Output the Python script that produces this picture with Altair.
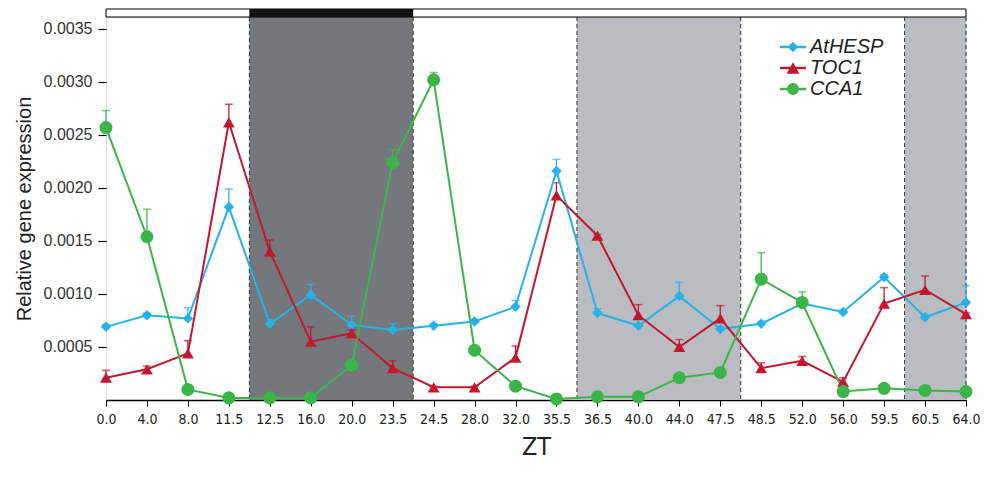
import json
import altair as alt
import pandas as pd

zt = ["0.0", "4.0", "8.0", "11.5", "12.5", "16.0", "20.0", "23.5", "24.5", "28.0", "32.0",
      "35.5", "36.5", "40.0", "44.0", "47.5", "48.5", "52.0", "56.0", "59.5", "60.5", "64.0"]

athesp = [0.00069, 0.00080, 0.00077, 0.00182, 0.00072, 0.00099, 0.00071, 0.00066, 0.00070, 0.00074, 0.00088,
          0.00216, 0.00082, 0.00070, 0.00098, 0.00067, 0.00072, 0.00091, 0.00083, 0.00116, 0.00078, 0.00092]
athesp_err = [0.00002, 0.00002, 0.00010, 0.00017, 0.00004, 0.00010, 0.00008, 0.00006, 0.00002, 0.00002, 0.00006,
              0.00011, 0.00004, 0.00002, 0.00013, 0.00002, 0.00002, 0.00003, 0.00002, 0.00002, 0.00002, 0.00016]

toc1 = [0.00021, 0.00029, 0.00044, 0.00262, 0.00140, 0.00055, 0.00063, 0.00030, 0.00012, 0.00012, 0.00040,
        0.00193, 0.00155, 0.00080, 0.00050, 0.00077, 0.00030, 0.00037, 0.00017, 0.00091, 0.00104, 0.00081]
toc1_err = [0.00007, 0.00003, 0.00012, 0.00017, 0.00011, 0.00014, 0.00003, 0.00007, 0.00001, 0.00001, 0.00011,
            0.00012, 0.00001, 0.00010, 0.00007, 0.00012, 0.00005, 0.00004, 0.00004, 0.00015, 0.00013, 0.00001]

cca1 = [0.00257, 0.00154, 0.00010, 0.00002, 0.00002, 0.00002, 0.00033, 0.00224, 0.00302, 0.00047, 0.00013,
        0.00001, 0.00003, 0.00003, 0.00021, 0.00026, 0.00114, 0.00092, 0.00008, 0.00011, 0.00009, 0.00008]
cca1_err = [0.00016, 0.00026, 0.00001, 0.00001, 0.00001, 0.00001, 0.00002, 0.00012, 0.00007, 0.00001, 0.00001,
            0.00001, 0.00001, 0.00001, 0.00001, 0.00001, 0.00025, 0.00010, 0.00001, 0.00001, 0.00001, 0.00001]

series_names = ["AtHESP", "TOC1", "CCA1"]
series_colors = ["#27b2e6", "#c2172e", "#3bb54a"]
series_shapes = ["diamond", "triangle-up", "circle"]
series_sizes = [110, 170, 140]

# shaded periods (in category index units)
shade_start = [3.5, 11.5, 19.5]
shade_end = [7.5, 15.5, 21.0]
shade_color = ["#74777c", "#b9bcc0", "#b9bcc0"]

rows = []
for name, vals, errs in [("AtHESP", athesp, athesp_err), ("TOC1", toc1, toc1_err), ("CCA1", cca1, cca1_err)]:
    for i, (v, e) in enumerate(zip(vals, errs)):
        rows.append({"series": name, "idx": i, "zt": zt[i], "value": v, "hi": v + e})
df = pd.DataFrame(rows)

shade_df = pd.DataFrame({"start": shade_start, "end": shade_end, "color": shade_color})
edges_df = pd.DataFrame({"x": sorted(set(shade_start + shade_end))})

W, H = 860, 383
YMAX = 0.003613

label_expr = json.dumps(zt) + "[datum.value]"
xscale = alt.Scale(domain=[0, 21], nice=False, zero=False)
yscale = alt.Scale(domain=[0, YMAX], nice=False)

x_axis = alt.Axis(values=list(range(22)), labelExpr=label_expr, grid=False, title="ZT",
                  tickSize=6, tickColor="#000", domainColor="#000", domainWidth=1.5,
                  labelFont="Liberation Sans Narrow, DejaVu Sans Condensed, Liberation Sans",
                  labelFontSize=14, labelColor="#222", labelPadding=6, labelAngle=0,
                  labelOverlap=False, labelFlush=False,
                  titleFont="Liberation Sans Narrow, DejaVu Sans Condensed, Liberation Sans",
                  titleFontSize=25, titleFontWeight="normal", titleColor="#222", titlePadding=8)
y_axis = alt.Axis(values=[0.0005, 0.001, 0.0015, 0.002, 0.0025, 0.003, 0.0035], format=".4f",
                  grid=False, domain=False, tickSize=8, tickColor="#000", tickWidth=1.2,
                  labelFont="Liberation Sans, Arial", labelFontSize=16, labelColor="#333", labelPadding=6,
                  labelOverlap=False,
                  title="Relative gene expression", titleFont="Liberation Sans, Arial",
                  titleFontSize=20, titleFontWeight="normal", titleColor="#222", titlePadding=9)

color_scale = alt.Scale(domain=series_names, range=series_colors)
shape_scale = alt.Scale(domain=series_names, range=series_shapes)
size_scale = alt.Scale(domain=series_names, range=series_sizes)

shades = alt.Chart(shade_df).mark_rect().encode(
    x=alt.X("start:Q", scale=xscale, axis=x_axis),
    x2="end:Q",
    y=alt.value(0),
    y2=alt.value(H),
    color=alt.Color("color:N", scale=None),
)

edges = alt.Chart(edges_df).mark_rule(strokeDash=[4, 3], color="#333", strokeWidth=1).encode(
    x=alt.X("x:Q", scale=xscale),
    y=alt.value(0),
    y2=alt.value(H),
)

# top light/dark bar
bar_df = pd.DataFrame({"start": [0.0], "end": [21.0]})
topbar = alt.Chart(bar_df).mark_rect(fill="white", stroke="#000", strokeWidth=1).encode(
    x=alt.X("start:Q", scale=xscale), x2="end:Q", y=alt.value(-8), y2=alt.value(0))
dark_df = pd.DataFrame({"start": [shade_start[0]], "end": [shade_end[0]]})
topdark = alt.Chart(dark_df).mark_rect(fill="#111").encode(
    x=alt.X("start:Q", scale=xscale), x2="end:Q", y=alt.value(-8), y2=alt.value(0))

base = alt.Chart(df)
y_enc = alt.Y("value:Q", scale=yscale, axis=y_axis)
color_enc = alt.Color("series:N", scale=color_scale, legend=None)

err_rules = base.mark_rule(strokeWidth=1.3).encode(
    x=alt.X("idx:Q", scale=xscale), y=y_enc, y2="hi:Q", color=color_enc)
err_caps = base.mark_tick(orient="horizontal", size=8, thickness=1.5).encode(
    x=alt.X("idx:Q", scale=xscale), y=alt.Y("hi:Q", scale=yscale, axis=y_axis), color=color_enc)
lines = base.mark_line(strokeWidth=2).encode(
    x=alt.X("idx:Q", scale=xscale), y=y_enc, color=color_enc,
    detail="series:N", order="idx:Q")
points = base.mark_point(filled=True, opacity=1).encode(
    x=alt.X("idx:Q", scale=xscale), y=y_enc, color=color_enc,
    shape=alt.Shape("series:N", scale=shape_scale, legend=None),
    size=alt.Size("series:N", scale=size_scale, legend=None))

# manual legend (one small layer set per entry)
leg_rows_y = [30, 51, 72]
legend_layers = []
for name, col, shp, sz, ly in zip(series_names, series_colors, series_shapes, series_sizes, leg_rows_y):
    ldf = pd.DataFrame({"series": [name]})
    legend_layers.append(alt.Chart(ldf).mark_rule(strokeWidth=2.5, color=col).encode(
        x=alt.value(674), x2=alt.value(700), y=alt.value(ly)))
    legend_layers.append(alt.Chart(ldf).mark_point(filled=True, opacity=1, color=col, shape=shp,
                                                   size=sz).encode(x=alt.value(687), y=alt.value(ly)))
    legend_layers.append(alt.Chart(ldf).mark_text(align="left", baseline="middle", fontSize=20,
                                                  fontStyle="italic", font="Liberation Sans, Arial",
                                                  color="#222").encode(
        x=alt.value(704), y=alt.value(ly), text="series:N"))

chart = alt.layer(shades, edges, topbar, topdark, err_rules, err_caps, lines, points,
                  *legend_layers).properties(
    width=W, height=H,
    autosize=alt.AutoSizeParams(type="none"),
    padding={"left": 98, "top": 9, "right": 15, "bottom": 60},
).configure_view(stroke=None).configure(background="white")

chart.save("out.html", embed_options={"renderer": "svg", "actions": False})
